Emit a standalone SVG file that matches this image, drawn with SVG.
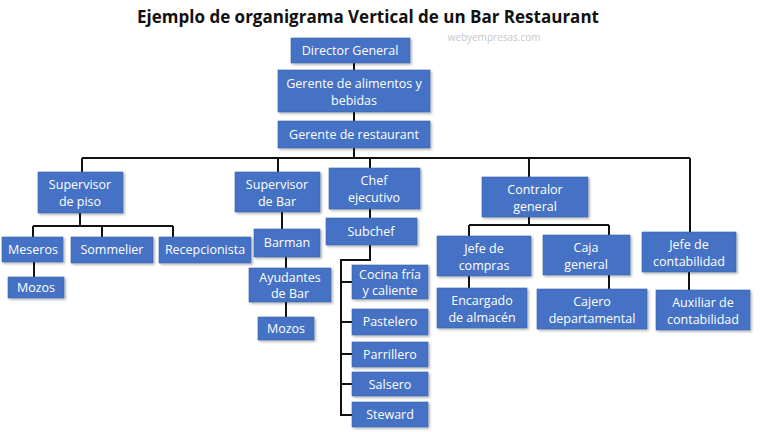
<svg xmlns="http://www.w3.org/2000/svg" width="768" height="432" viewBox="0 0 768 432">
<style>
.b{fill:#4472C4;stroke:#3a64b0;stroke-width:0.6;filter:url(#sh)}
.t{font-family:"Open Sans","Liberation Sans",sans-serif;font-size:12.5px;fill:#fff;text-anchor:middle}
.c{stroke:#111;stroke-width:2;fill:none}
</style>
<defs><filter id="sh" x="-10%" y="-10%" width="130%" height="140%"><feDropShadow dx="1.5" dy="1.5" stdDeviation="1" flood-color="#000" flood-opacity="0.3"/></filter></defs>
<rect width="768" height="432" fill="#fff"/>
<text x="368" y="23" font-family="'Open Sans','Liberation Sans',sans-serif" font-size="17" font-weight="bold" text-anchor="middle" fill="#111">Ejemplo de organigrama Vertical de un Bar Restaurant</text>
<text x="494" y="41" font-family="'Open Sans','Liberation Sans',sans-serif" font-size="10" text-anchor="middle" fill="#c8c8c8">webyempresas.com</text>
<g id="connectors" class="c">
<path d="M354 63V70M354 112V121M354 148V158M82 158H690M82 158V172M278 158V172M370 158V168M529 158V177M690 158V232"/>
<path d="M80 213V226M33 226H173M33 226V237M102 226V237M173 226V237M34 262V277"/>
<path d="M282 212V229M286 257V268M286 302V317"/>
<path d="M370 209V218M370 245V260H341V415H352M341 282H352M341 322H352M341 354H352M341 384H352"/>
<path d="M529 217V225M469 225H609M469 225V236M609 225V235M469 276V288M609 275V289M689 272V290"/>
</g>
<g id="n1"><rect class="b" x="291" y="38" width="119" height="25"/><text class="t" x="350" y="55">Director General</text></g>
<g id="n2"><rect class="b" x="278" y="70" width="152" height="42"/><text class="t" x="354" y="88">Gerente de alimentos y</text><text class="t" x="354" y="105">bebidas</text></g>
<g id="n3"><rect class="b" x="278" y="121" width="152" height="27"/><text class="t" x="354" y="139">Gerente de restaurant</text></g>
<g id="n4"><rect class="b" x="38" y="172" width="85" height="41"/><text class="t" x="80" y="189">Supervisor</text><text class="t" x="80" y="206">de piso</text></g>
<g id="n5"><rect class="b" x="235" y="172" width="85" height="40"/><text class="t" x="277" y="189">Supervisor</text><text class="t" x="277" y="206">de Bar</text></g>
<g id="n6"><rect class="b" x="329" y="168" width="91" height="41"/><text class="t" x="374" y="185">Chef</text><text class="t" x="374" y="202">ejecutivo</text></g>
<g id="n7"><rect class="b" x="482" y="177" width="106" height="40"/><text class="t" x="535" y="194">Contralor</text><text class="t" x="535" y="211">general</text></g>
<g id="n8"><rect class="b" x="642" y="232" width="94" height="40"/><text class="t" x="689" y="249">Jefe de</text><text class="t" x="689" y="266">contabilidad</text></g>
<g id="n9"><rect class="b" x="2" y="237" width="61" height="25"/><text class="t" x="33" y="254">Meseros</text></g>
<g id="n10"><rect class="b" x="71" y="237" width="82" height="26"/><text class="t" x="112" y="254">Sommelier</text></g>
<g id="n11"><rect class="b" x="159" y="237" width="92" height="26"/><text class="t" x="205" y="254">Recepcionista</text></g>
<g id="n12"><rect class="b" x="8" y="277" width="56" height="21"/><text class="t" x="36" y="292">Mozos</text></g>
<g id="n13"><rect class="b" x="254" y="229" width="66" height="28"/><text class="t" x="287" y="247">Barman</text></g>
<g id="n14"><rect class="b" x="249" y="268" width="82" height="34"/><text class="t" x="290" y="282">Ayudantes</text><text class="t" x="290" y="298">de Bar</text></g>
<g id="n15"><rect class="b" x="258" y="317" width="56" height="23"/><text class="t" x="286" y="333">Mozos</text></g>
<g id="n16"><rect class="b" x="326" y="218" width="91" height="27"/><text class="t" x="371" y="236">Subchef</text></g>
<g id="n17"><rect class="b" x="352" y="265" width="76" height="34"/><text class="t" x="390" y="279">Cocina fría</text><text class="t" x="390" y="295">y caliente</text></g>
<g id="n18"><rect class="b" x="352" y="309" width="76" height="26"/><text class="t" x="390" y="326">Pastelero</text></g>
<g id="n19"><rect class="b" x="352" y="342" width="76" height="25"/><text class="t" x="390" y="359">Parrillero</text></g>
<g id="n20"><rect class="b" x="352" y="372" width="76" height="24"/><text class="t" x="390" y="389">Salsero</text></g>
<g id="n21"><rect class="b" x="352" y="402" width="76" height="25"/><text class="t" x="390" y="419">Steward</text></g>
<g id="n22"><rect class="b" x="437" y="236" width="94" height="40"/><text class="t" x="484" y="253">Jefe de</text><text class="t" x="484" y="270">compras</text></g>
<g id="n23"><rect class="b" x="543" y="235" width="87" height="40"/><text class="t" x="586" y="252">Caja</text><text class="t" x="586" y="269">general</text></g>
<g id="n24"><rect class="b" x="437" y="288" width="90" height="40"/><text class="t" x="482" y="305">Encargado</text><text class="t" x="482" y="322">de almacén</text></g>
<g id="n25"><rect class="b" x="537" y="289" width="110" height="40"/><text class="t" x="592" y="306">Cajero</text><text class="t" x="592" y="323">departamental</text></g>
<g id="n26"><rect class="b" x="656" y="290" width="94" height="40"/><text class="t" x="703" y="307">Auxiliar de</text><text class="t" x="703" y="324">contabilidad</text></g>
</svg>
